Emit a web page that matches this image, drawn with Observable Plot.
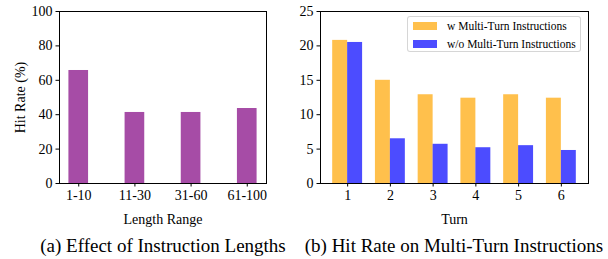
<!DOCTYPE html>
<html>
<head>
<meta charset="utf-8">
<script src="https://cdn.jsdelivr.net/npm/d3@7"></script>
<script src="https://cdn.jsdelivr.net/npm/@observablehq/plot@0.6"></script>
<style>
  html, body { margin: 0; padding: 0; background: #fff; }
  #wrap { position: relative; width: 608px; height: 259px; overflow: hidden; font-family: "Liberation Serif", "DejaVu Serif", serif; color: #000; }
  .panel { position: absolute; top: 0; }
  .panel svg text { font-family: "Liberation Serif", serif; }
  .caption { position: absolute; font-size: 19px; white-space: nowrap; transform: translateX(-50%); line-height: 1; }
  #legend { position: absolute; left: 407px; top: 16px; width: 174px; height: 36px; border: 1px solid rgba(204,204,204,0.8); border-radius: 3px; background: rgba(255,255,255,0.8); box-sizing: border-box; font-size: 11.5px; }
  .lrow { position: absolute; left: 5px; height: 14px; display: flex; align-items: center; white-space: nowrap; }
  .sw { width: 24px; height: 8px; margin-right: 10px; }
</style>
</head>
<body>
<div id="wrap">
  <div id="left" class="panel" style="left:0px"></div>
  <div id="right" class="panel" style="left:290px"></div>
  <div id="legend"></div>
  <div id="capA" class="caption" style="left:163px; top:236px"></div>
  <div id="capB" class="caption" style="left:454px; top:236px"></div>
</div>
<script>
// ---- data ----
const lengthRanges = ["1-10", "11-30", "31-60", "61-100"];
const hitRates = [65.7, 41.3, 41.3, 43.6];
const leftYTicks = [0, 20, 40, 60, 80, 100];

const turns = [1, 2, 3, 4, 5, 6];
const withMulti = [20.8, 15.0, 12.9, 12.4, 12.9, 12.4];
const withoutMulti = [20.5, 6.5, 5.7, 5.2, 5.5, 4.8];
const rightYTicks = [0, 5, 10, 15, 20, 25];
const seriesNames = ["w Multi-Turn Instructions", "w/o Multi-Turn Instructions"];
const seriesColors = ["orange", "blue"];

const captions = ["(a) Effect of Instruction Lengths", "(b) Hit Rate on Multi-Turn Instructions"];
const xLabels = ["Length Range", "Turn"];
const yLabel = "Hit Rate (%)";

// ---- tables ----
const leftData = lengthRanges.map((r, i) => ({i, range: r, value: hitRates[i]}));
const rightData = [];
turns.forEach((t, i) => {
  rightData.push({turn: t, series: 0, value: withMulti[i]});
  rightData.push({turn: t, series: 1, value: withoutMulti[i]});
});

const font = "font-family: 'Liberation Serif', serif; font-size: 14px; background: white; color: black; overflow: visible;";
const barW = 0.35;

// ---- left panel ----
const left = Plot.plot({
  width: 300, height: 228,
  marginLeft: 59, marginRight: 34, marginTop: 11, marginBottom: 45,
  style: font,
  x: {type: "linear", domain: [-0.3425, 3.3425]},
  y: {domain: [0, 100]},
  marks: [
    Plot.rectY(leftData, {x1: d => d.i - barW / 2, x2: d => d.i + barW / 2, y1: 0, y2: "value", fill: "purple", fillOpacity: 0.7}),
    Plot.axisY({ticks: leftYTicks, tickSize: 3.5, tickPadding: 3.5, fontSize: 14, label: yLabel, labelAnchor: "center", labelOffset: 44, labelArrow: "none"}),
    Plot.axisX({ticks: lengthRanges.map((_, i) => i), tickFormat: i => lengthRanges[i], tickSize: 3.5, tickPadding: 3.5, fontSize: 14, label: xLabels[0], labelAnchor: "center", labelOffset: 40, labelArrow: "none"}),
    Plot.frame({stroke: "black", strokeWidth: 1})
  ]
});
document.getElementById("left").appendChild(left);

// ---- right panel ----
const right = Plot.plot({
  width: 318, height: 228,
  marginLeft: 30, marginRight: 20, marginTop: 11, marginBottom: 45,
  style: font,
  x: {type: "linear", domain: [0.365, 6.635]},
  y: {domain: [0, 25]},
  marks: [
    Plot.rectY(rightData, {
      x1: d => d.series === 0 ? d.turn - barW : d.turn,
      x2: d => d.series === 0 ? d.turn : d.turn + barW,
      y1: 0, y2: "value",
      fill: d => seriesColors[d.series], fillOpacity: 0.7
    }),
    Plot.axisY({ticks: rightYTicks, tickSize: 3.5, tickPadding: 3.5, fontSize: 14, label: null}),
    Plot.axisX({ticks: turns, tickFormat: d => String(d), tickSize: 3.5, tickPadding: 3.5, fontSize: 14, label: xLabels[1], labelAnchor: "center", labelOffset: 40, labelArrow: "none"}),
    Plot.frame({stroke: "black", strokeWidth: 1})
  ]
});
document.getElementById("right").appendChild(right);

// ---- legend ----
const legend = document.getElementById("legend");
seriesNames.forEach((name, k) => {
  const row = document.createElement("div");
  row.className = "lrow";
  row.style.top = (2 + k * 18) + "px";
  const sw = document.createElement("div");
  sw.className = "sw";
  sw.style.background = seriesColors[k];
  sw.style.opacity = 0.7;
  const tx = document.createElement("span");
  tx.textContent = name;
  row.appendChild(sw); row.appendChild(tx);
  legend.appendChild(row);
});

document.getElementById("capA").textContent = captions[0];
document.getElementById("capB").textContent = captions[1];
</script>
</body>
</html>
